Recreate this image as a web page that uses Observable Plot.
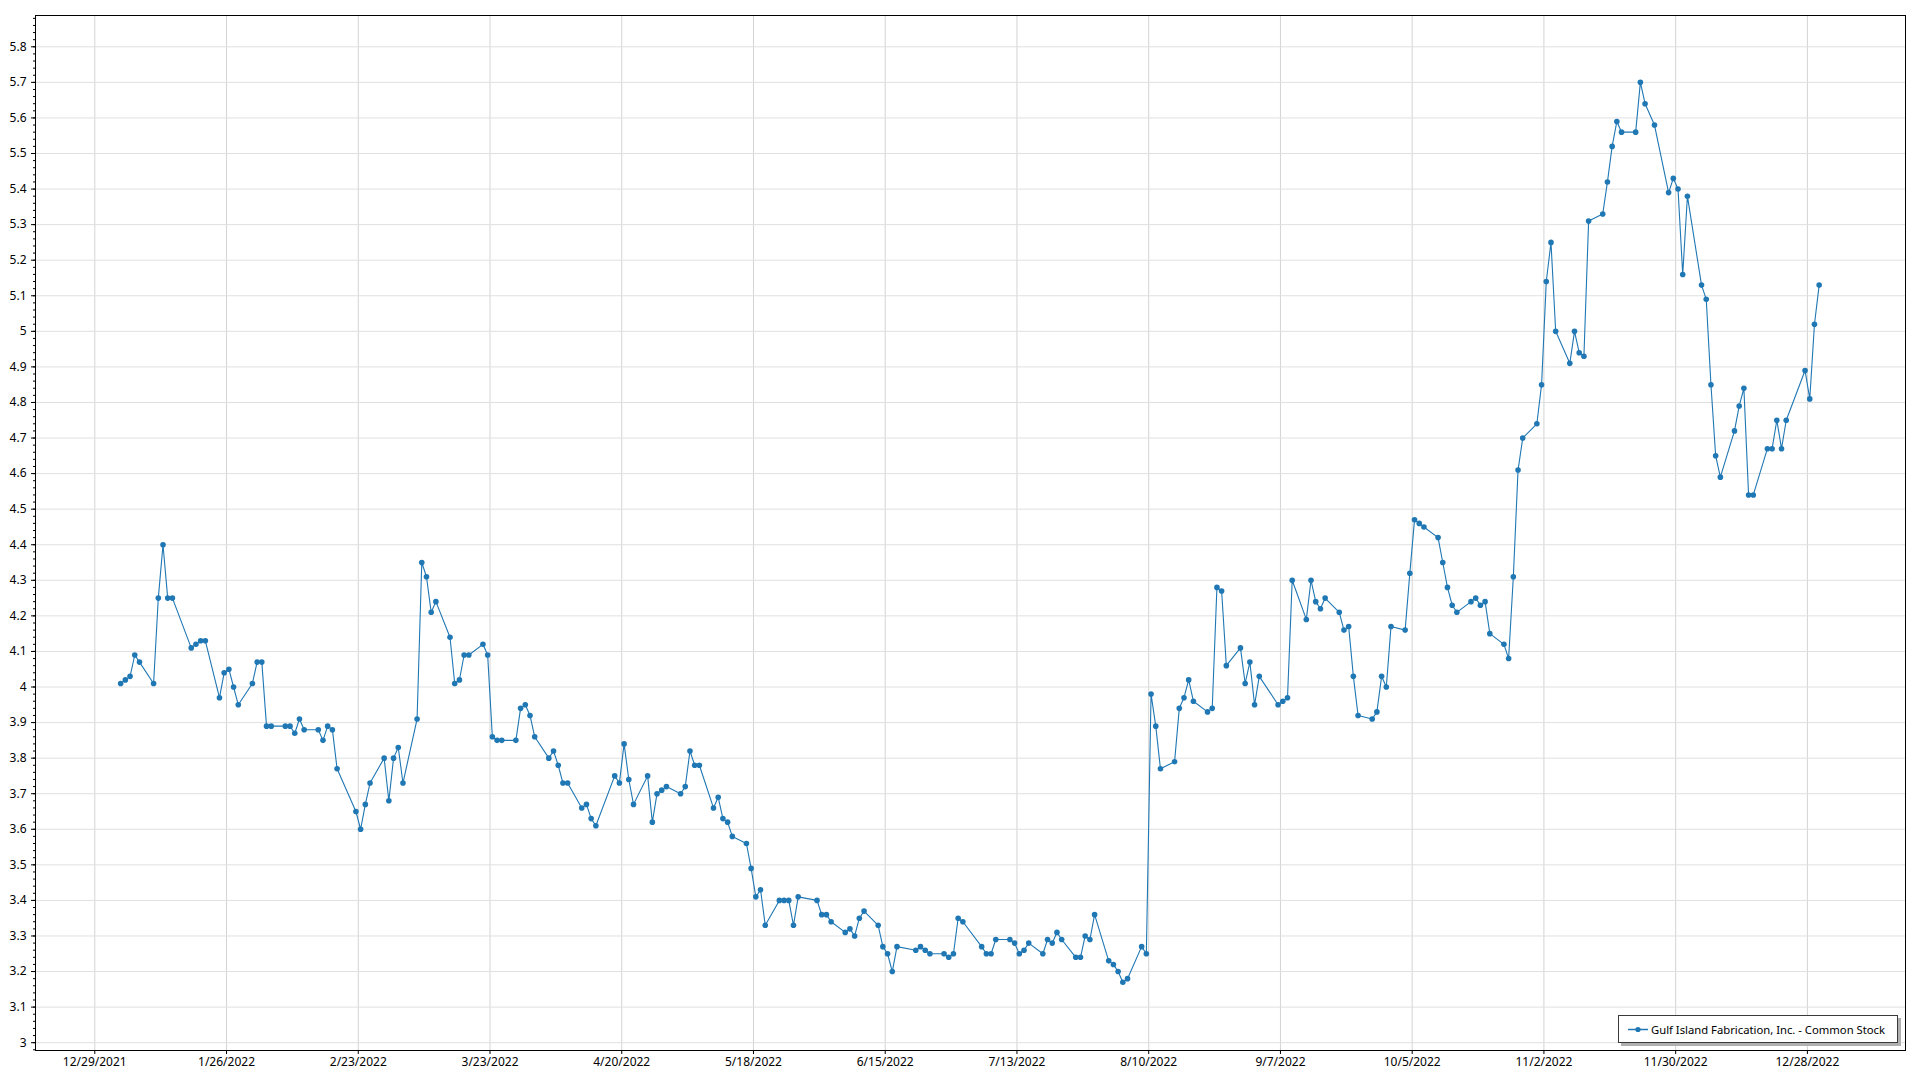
<!DOCTYPE html>
<html>
<head>
<meta charset="utf-8">
<script src="https://cdn.jsdelivr.net/npm/d3@7"></script>
<script src="https://cdn.jsdelivr.net/npm/@observablehq/plot@0.6"></script>
<style>
html, body { margin: 0; padding: 0; background: #fff; overflow: hidden; }
#wrap { position: relative; width: 1920px; height: 1080px; }
#wrap > svg { display: block; }
.legend {
  position: absolute; left: 1618px; top: 1015px; width: 280px; height: 28px;
  box-sizing: border-box; border: 1px solid #3a3a3a; background: #fff;
  box-shadow: 3px 3px 0 #b0b0b0;
}
.legend svg { position: absolute; left: 0; top: 0; overflow: visible; }
</style>
</head>
<body>
<div id="wrap"></div>
<script>
const seriesName = "Gulf Island Fabrication, Inc. - Common Stock";

const dates = [
"2022-01-03","2022-01-04","2022-01-05","2022-01-06","2022-01-07",
"2022-01-10","2022-01-11","2022-01-12","2022-01-13","2022-01-14",
"2022-01-18","2022-01-19","2022-01-20","2022-01-21",
"2022-01-24","2022-01-25","2022-01-26","2022-01-27","2022-01-28",
"2022-01-31","2022-02-01","2022-02-02","2022-02-03","2022-02-04",
"2022-02-07","2022-02-08","2022-02-09","2022-02-10","2022-02-11",
"2022-02-14","2022-02-15","2022-02-16","2022-02-17","2022-02-18",
"2022-02-22","2022-02-23","2022-02-24","2022-02-25",
"2022-02-28","2022-03-01","2022-03-02","2022-03-03","2022-03-04",
"2022-03-07","2022-03-08","2022-03-09","2022-03-10","2022-03-11",
"2022-03-14","2022-03-15","2022-03-16","2022-03-17","2022-03-18",
"2022-03-21","2022-03-22","2022-03-23","2022-03-24","2022-03-25",
"2022-03-28","2022-03-29","2022-03-30","2022-03-31","2022-04-01",
"2022-04-04","2022-04-05","2022-04-06","2022-04-07","2022-04-08",
"2022-04-11","2022-04-12","2022-04-13","2022-04-14",
"2022-04-18","2022-04-19","2022-04-20","2022-04-21","2022-04-22",
"2022-04-25","2022-04-26","2022-04-27","2022-04-28","2022-04-29",
"2022-05-02","2022-05-03","2022-05-04","2022-05-05","2022-05-06",
"2022-05-09","2022-05-10","2022-05-11","2022-05-12","2022-05-13",
"2022-05-16","2022-05-17","2022-05-18","2022-05-19","2022-05-20",
"2022-05-23","2022-05-24","2022-05-25","2022-05-26","2022-05-27",
"2022-05-31","2022-06-01","2022-06-02","2022-06-03",
"2022-06-06","2022-06-07","2022-06-08","2022-06-09","2022-06-10",
"2022-06-13","2022-06-14","2022-06-15","2022-06-16","2022-06-17",
"2022-06-21","2022-06-22","2022-06-23","2022-06-24",
"2022-06-27","2022-06-28","2022-06-29","2022-06-30","2022-07-01",
"2022-07-05","2022-07-06","2022-07-07","2022-07-08",
"2022-07-11","2022-07-12","2022-07-13","2022-07-14","2022-07-15",
"2022-07-18","2022-07-19","2022-07-20","2022-07-21","2022-07-22",
"2022-07-25","2022-07-26","2022-07-27","2022-07-28","2022-07-29",
"2022-08-01","2022-08-02","2022-08-03","2022-08-04","2022-08-05",
"2022-08-08","2022-08-09","2022-08-10","2022-08-11","2022-08-12",
"2022-08-15","2022-08-16","2022-08-17","2022-08-18","2022-08-19",
"2022-08-22","2022-08-23","2022-08-24","2022-08-25","2022-08-26",
"2022-08-29","2022-08-30","2022-08-31","2022-09-01","2022-09-02",
"2022-09-06","2022-09-07","2022-09-08","2022-09-09",
"2022-09-12","2022-09-13","2022-09-14","2022-09-15","2022-09-16",
"2022-09-19","2022-09-20","2022-09-21","2022-09-22","2022-09-23",
"2022-09-26","2022-09-27","2022-09-28","2022-09-29","2022-09-30",
"2022-10-03","2022-10-04","2022-10-05","2022-10-06","2022-10-07",
"2022-10-10","2022-10-11","2022-10-12","2022-10-13","2022-10-14",
"2022-10-17","2022-10-18","2022-10-19","2022-10-20","2022-10-21",
"2022-10-24","2022-10-25","2022-10-26","2022-10-27","2022-10-28",
"2022-10-31","2022-11-01","2022-11-02","2022-11-03","2022-11-04",
"2022-11-07","2022-11-08","2022-11-09","2022-11-10","2022-11-11",
"2022-11-14","2022-11-15","2022-11-16","2022-11-17","2022-11-18",
"2022-11-21","2022-11-22","2022-11-23","2022-11-25",
"2022-11-28","2022-11-29","2022-11-30","2022-12-01","2022-12-02",
"2022-12-05","2022-12-06","2022-12-07","2022-12-08","2022-12-09",
"2022-12-12","2022-12-13","2022-12-14","2022-12-15","2022-12-16",
"2022-12-19","2022-12-20","2022-12-21","2022-12-22","2022-12-23",
"2022-12-27","2022-12-28","2022-12-29","2022-12-30"
];

const prices = [
4.01,4.02,4.03,4.09,4.07,
4.01,4.25,4.40,4.25,4.25,
4.11,4.12,4.13,4.13,
3.97,4.04,4.05,4.00,3.95,
4.01,4.07,4.07,3.89,3.89,
3.89,3.89,3.87,3.91,3.88,
3.88,3.85,3.89,3.88,3.77,
3.65,3.60,3.67,3.73,
3.80,3.68,3.80,3.83,3.73,
3.91,4.35,4.31,4.21,4.24,
4.14,4.01,4.02,4.09,4.09,
4.12,4.09,3.86,3.85,3.85,
3.85,3.94,3.95,3.92,3.86,
3.80,3.82,3.78,3.73,3.73,
3.66,3.67,3.63,3.61,
3.75,3.73,3.84,3.74,3.67,
3.75,3.62,3.70,3.71,3.72,
3.70,3.72,3.82,3.78,3.78,
3.66,3.69,3.63,3.62,3.58,
3.56,3.49,3.41,3.43,3.33,
3.40,3.40,3.40,3.33,3.41,
3.40,3.36,3.36,3.34,
3.31,3.32,3.30,3.35,3.37,
3.33,3.27,3.25,3.20,3.27,
3.26,3.27,3.26,3.25,
3.25,3.24,3.25,3.35,3.34,
3.27,3.25,3.25,3.29,
3.29,3.28,3.25,3.26,3.28,
3.25,3.29,3.28,3.31,3.29,
3.24,3.24,3.30,3.29,3.36,
3.23,3.22,3.20,3.17,3.18,
3.27,3.25,3.98,3.89,3.77,
3.79,3.94,3.97,4.02,3.96,
3.93,3.94,4.28,4.27,4.06,
4.11,4.01,4.07,3.95,4.03,
3.95,3.96,3.97,4.30,
4.19,4.30,4.24,4.22,4.25,
4.21,4.16,4.17,4.03,3.92,
3.91,3.93,4.03,4.00,4.17,
4.16,4.32,4.47,4.46,4.45,
4.42,4.35,4.28,4.23,4.21,
4.24,4.25,4.23,4.24,4.15,
4.12,4.08,4.31,4.61,4.70,
4.74,4.85,5.14,5.25,5.00,
4.91,5.00,4.94,4.93,5.31,
5.33,5.42,5.52,5.59,5.56,
5.56,5.70,5.64,5.58,
5.39,5.43,5.40,5.16,5.38,
5.13,5.09,4.85,4.65,4.59,
4.72,4.79,4.84,4.54,4.54,
4.67,4.67,4.75,4.67,4.75,
4.89,4.81,5.02,5.13
];

const xTickDates = [
"2021-12-29","2022-01-26","2022-02-23","2022-03-23","2022-04-20",
"2022-05-18","2022-06-15","2022-07-13","2022-08-10","2022-09-07",
"2022-10-05","2022-11-02","2022-11-30","2022-12-28"
];

const yTicks = [3,3.1,3.2,3.3,3.4,3.5,3.6,3.7,3.8,3.9,4,4.1,4.2,4.3,4.4,4.5,4.6,4.7,4.8,4.9,5,5.1,5.2,5.3,5.4,5.5,5.6,5.7,5.8];

const lineColor = "#1f77b4";
const fontStack = '"Segoe UI", "Noto Sans", sans-serif';

// table built from the arrays above (closing prices recorded at mid-day)
const data = dates.map((d, i) => ({date: new Date(d + "T12:00:00Z"), price: prices[i]}));
const xTicks = xTickDates.map(d => new Date(d + "T00:00:00Z"));
const yMinor = d3.range(2.98, 5.889, 0.02).map(v => Math.round(v * 100) / 100);
const fmtDate = d3.utcFormat("%-m/%-d/%Y");

const chart = Plot.plot({
  width: 1920,
  height: 1080,
  marginLeft: 35,
  marginRight: 15,
  marginTop: 15,
  marginBottom: 30,
  style: {fontFamily: fontStack, fontSize: "12px", color: "#000", background: "#fff", overflow: "visible"},
  x: {type: "utc", domain: [new Date("2021-12-16T09:36:00Z"), new Date("2023-01-17T20:24:00Z")]},
  y: {domain: [2.978, 5.888]},
  marks: [
    Plot.gridX(xTicks, {stroke: "#d4d4d4", strokeOpacity: 1}),
    Plot.gridY(yTicks, {stroke: "#e0e0e0", strokeOpacity: 1}),
    Plot.axisX(xTicks, {tickSize: 4, tickPadding: 3, tickFormat: fmtDate, label: null}),
    Plot.axisY(yTicks, {tickSize: 4, tickPadding: 5, tickFormat: d => String(d), label: null}),
    Plot.axisY(yMinor, {tickSize: 2, text: null, label: null}),
    Plot.line(data, {x: "date", y: "price", stroke: lineColor, strokeWidth: 1.1}),
    Plot.dot(data, {x: "date", y: "price", r: 2.8, fill: lineColor, stroke: null}),
    Plot.frame({stroke: "#000", strokeWidth: 1})
  ]
});

const wrap = document.getElementById("wrap");
wrap.appendChild(chart);

const legend = document.createElement("div");
legend.className = "legend";
wrap.appendChild(legend);
const lsvg = d3.select(legend).append("svg").attr("width", 278).attr("height", 26);
lsvg.append("line").attr("x1", 9).attr("x2", 29).attr("y1", 13.5).attr("y2", 13.5)
  .attr("stroke", lineColor).attr("stroke-width", 1.5);
lsvg.append("circle").attr("cx", 19).attr("cy", 13.5).attr("r", 2.6).attr("fill", lineColor);
lsvg.append("text").attr("x", 32).attr("y", 17.5)
  .attr("font-family", fontStack).attr("font-size", 11).attr("fill", "#000")
  .attr("textLength", 234).attr("lengthAdjust", "spacingAndGlyphs")
  .text(seriesName);
</script>
</body>
</html>
